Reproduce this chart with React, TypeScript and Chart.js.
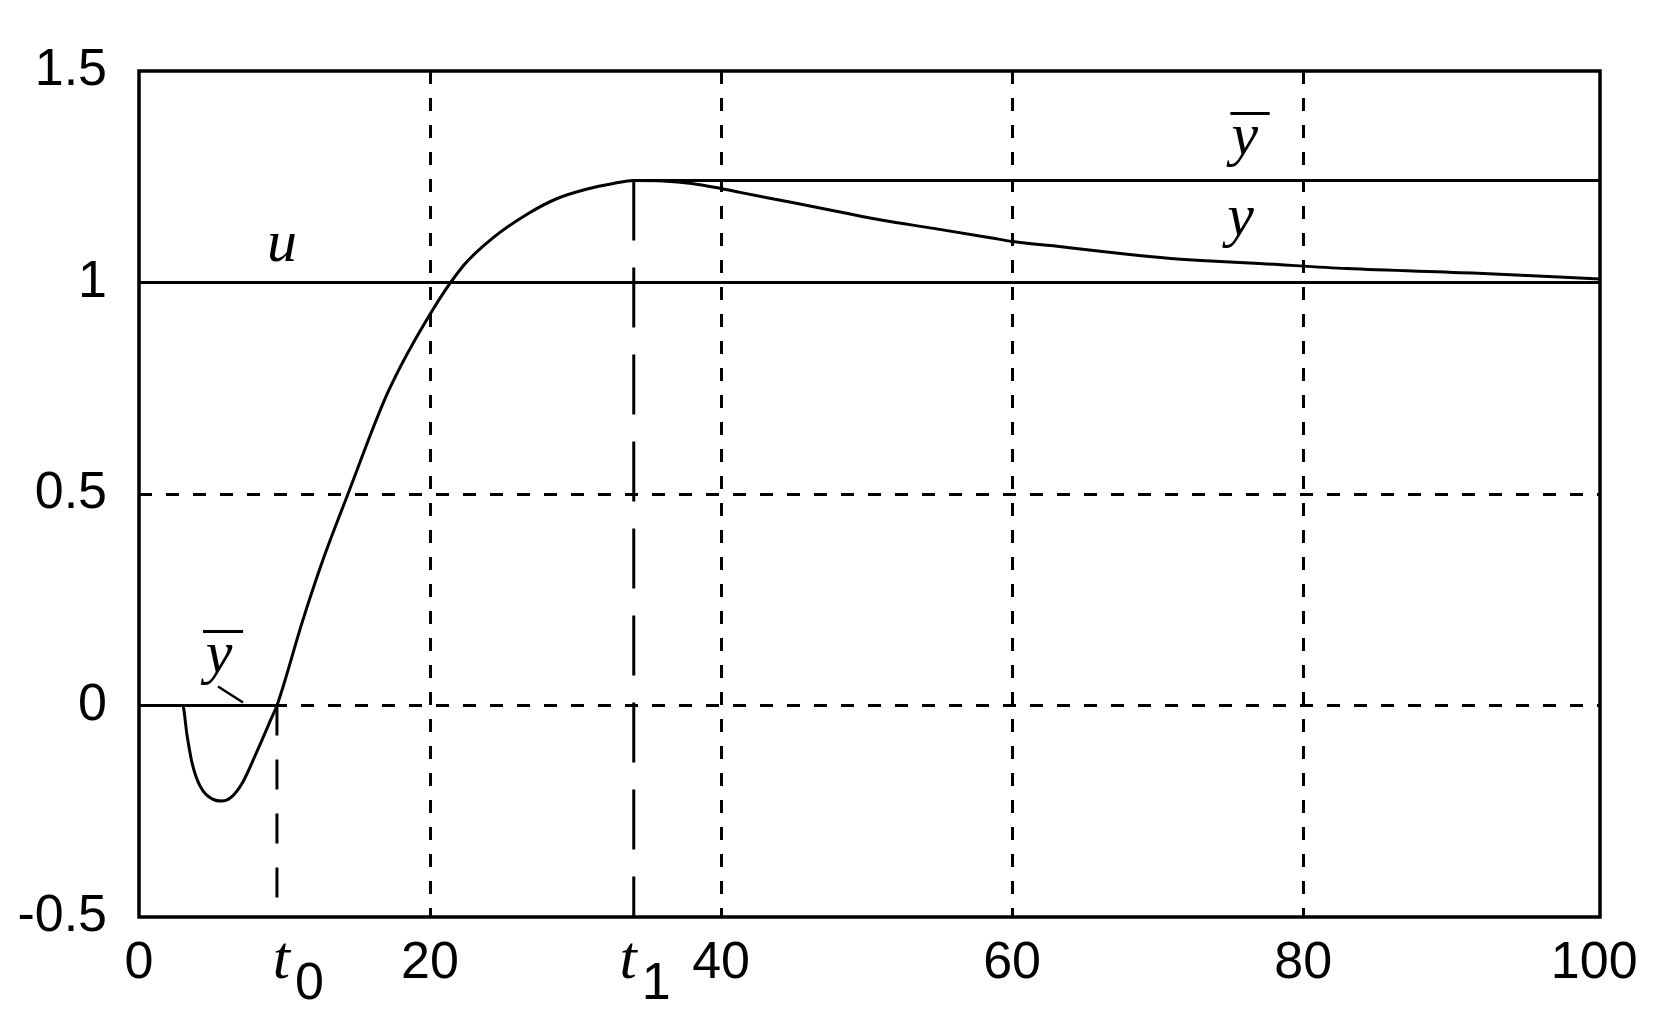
import React, { useEffect, useRef } from 'react';
import { Chart, registerables } from 'chart.js';

Chart.register(...registerables);

// response curve y(t)
const curveT = [0, 3.0, 3.3, 3.64, 4.19, 5.09, 5.7, 6.3, 7.15, 8.1, 9.1, 9.48, 11.27, 12.65, 14.36, 17.1, 20, 22.3, 24.3, 26.7, 28.7, 30.8, 32.6, 34.0, 36, 38, 40, 41.3, 44.9, 48, 51.1, 54.6, 58.5, 60, 63.8, 67.6, 70.9, 73, 77, 83, 92, 100.4];
const curveY = [0, 0, -0.07, -0.135, -0.19, -0.222, -0.226, -0.218, -0.18, -0.109, -0.03, 0, 0.203, 0.345, 0.5, 0.74, 0.925, 1.04, 1.105, 1.162, 1.198, 1.221, 1.234, 1.241, 1.24, 1.234, 1.222, 1.213, 1.189, 1.168, 1.147, 1.128, 1.106, 1.097, 1.083, 1.068, 1.057, 1.052, 1.045, 1.033, 1.022, 1.008];

// control / reference levels
const uLevel = 1;
const yBarLow = 0;
const yBarHigh = 1.241;
const t0 = 9.48;
const t1 = 34.0;

// axes
const xMin = 0;
const xMax = 100.4;
const yMin = -0.5;
const yMax = 1.5;
const xTicks = [0, 20, 40, 60, 80, 100];
const yTicks = [-0.5, 0, 0.5, 1, 1.5];
const xGridAt = [20, 40, 60, 80];
const yGridAt = [0, 0.5];

// italic curve labels
const labelText = ['u', 'y', 'y', 'y'];
const labelX = [9.83, 76.0, 75.7, 5.5];
const labelY = [1.05, 1.303, 1.113, 0.08];
const labelBar: (number[] | null)[] = [null, [75.0, 77.7, 1.4], null, [4.4, 7.15, 0.177]];

// leader line from lower ȳ label to the line
const leaderT = [5.43, 7.15];
const leaderY = [0.045, 0.007];

// t0, t1 axis labels
const tLabelAt = [t0, t1];
const tLabelSub = ['0', '1'];
const tLabelDx = [13, 3];

const pts = (xs: number[], ys: number[]) => xs.map((x, i) => ({ x, y: ys[i] }));

export default function App() {
  const ref = useRef<HTMLCanvasElement>(null);

  useEffect(() => {
    const overlay = {
      id: 'overlay',
      afterDraw(chart: any) {
        const { ctx, chartArea: a, scales } = chart;
        const x = scales.x;
        const y = scales.y;
        ctx.save();
        ctx.strokeStyle = '#000';
        ctx.fillStyle = '#000';
        ctx.lineWidth = 3.5;
        ctx.strokeRect(a.left, a.top, a.right - a.left, a.bottom - a.top);

        ctx.textAlign = 'center';
        ctx.textBaseline = 'alphabetic';
        ctx.font = 'italic 60px "Liberation Serif"';
        labelText.forEach((t, i) => {
          ctx.fillText(t, x.getPixelForValue(labelX[i]), y.getPixelForValue(labelY[i]));
          const b = labelBar[i];
          if (b) {
            ctx.lineWidth = 3;
            ctx.beginPath();
            const yy = Math.round(y.getPixelForValue(b[2])) + 0.5;
            ctx.moveTo(x.getPixelForValue(b[0]), yy);
            ctx.lineTo(x.getPixelForValue(b[1]), yy);
            ctx.stroke();
          }
        });

        tLabelAt.forEach((v, i) => {
          const px = x.getPixelForValue(v);
          ctx.font = 'italic 62px "Liberation Serif"';
          ctx.textAlign = 'right';
          ctx.fillText('t', px + tLabelDx[i], a.bottom + 61);
          ctx.font = '52px "Liberation Sans"';
          ctx.textAlign = 'left';
          ctx.fillText(tLabelSub[i], px + tLabelDx[i] + 5, a.bottom + 82);
        });
        ctx.restore();
      },
    };

    const line = (data: any[], extra: any = {}) => ({
      data,
      borderColor: '#000',
      borderWidth: 3,
      pointRadius: 0,
      fill: false,
      ...extra,
    });

    const chart = new Chart(ref.current as HTMLCanvasElement, {
      type: 'line',
      data: {
        datasets: [
          line(pts([xMin, xMax], [uLevel, uLevel])),
          line(pts([xMin, t0], [yBarLow, yBarLow])),
          line(pts([t1, xMax], [yBarHigh, yBarHigh])),
          line(pts([t0, t0], [yBarLow, yMin]), { borderDash: [30, 24] }),
          line(pts([t1, t1], [yBarHigh, yMin]), { borderDash: [60, 27] }),
          line(pts(leaderT, leaderY), { borderWidth: 2.5 }),
          line(pts(curveT, curveY), { cubicInterpolationMode: 'monotone', borderWidth: 3 }),
        ],
      },
      options: {
        animation: false,
        responsive: true,
        maintainAspectRatio: false,
        layout: { padding: { left: 0, right: 59, top: 71, bottom: 0 } },
        plugins: { legend: { display: false }, tooltip: { enabled: false } },
        scales: {
          x: {
            type: 'linear',
            min: xMin,
            max: xMax,
            afterBuildTicks: (s: any) => {
              s.ticks = xTicks.map((v) => ({ value: v }));
            },
            afterFit: (s: any) => {
              s.height = 104;
            },
            grid: {
              drawTicks: false,
              lineWidth: 3,
              color: (c: any) => (xGridAt.includes(c.tick?.value) ? '#000' : 'rgba(0,0,0,0)'),
            },
            border: { display: false, dash: [13, 14] },
            ticks: {
              color: '#000',
              padding: 15,
              maxRotation: 0,
              autoSkip: false,
              font: { family: '"Liberation Sans"', size: 52 },
              callback: (v: any) => String(v),
            },
          },
          y: {
            type: 'linear',
            min: yMin,
            max: yMax,
            afterBuildTicks: (s: any) => {
              s.ticks = yTicks.map((v) => ({ value: v }));
            },
            afterFit: (s: any) => {
              s.width = 139;
            },
            grid: {
              drawTicks: false,
              lineWidth: 3,
              color: (c: any) => (yGridAt.includes(c.tick?.value) ? '#000' : 'rgba(0,0,0,0)'),
            },
            border: { display: false, dash: [13, 14] },
            ticks: {
              color: '#000',
              padding: 32,
              font: { family: '"Liberation Sans"', size: 52 },
              callback: (v: any) => String(v),
            },
          },
        },
      },
      plugins: [overlay],
    });
    return () => chart.destroy();
  }, []);

  return (
    <div style={{ position: 'fixed', left: 0, top: 0, width: 1659, height: 1021, background: '#fff' }}>
      <canvas ref={ref} />
    </div>
  );
}
